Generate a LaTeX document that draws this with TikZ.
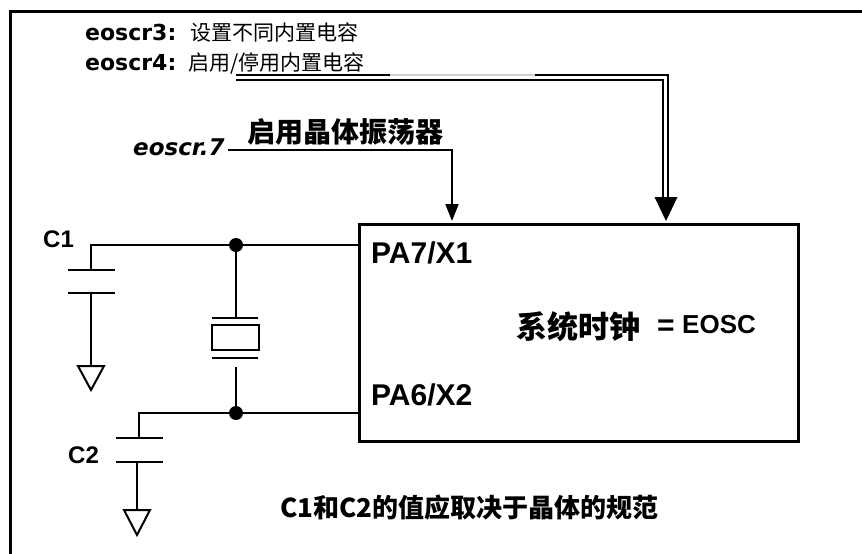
\documentclass[tikz,border=0pt]{standalone}
\usepackage{fontspec}
\setmainfont{Liberation Sans}
\newfontfamily\cjk{Noto Sans CJK SC}
\newfontfamily\dvs{DejaVu Sans}
\usetikzlibrary{arrows.meta}
\tikzset{
  wire/.style={line width=2pt, line cap=butt},
  lbl/.style={inner sep=0pt, anchor=base west},
  regfont/.style={font=\dvs\bfseries\fontsize{22}{22}\selectfont},
  smallcjk/.style={font=\cjk\fontsize{21}{21}\selectfont},
  pinfont/.style={font=\bfseries\fontsize{30}{30}\selectfont},
  capfont/.style={font=\bfseries\fontsize{24}{24}\selectfont},
  dot/.style={circle, fill=black, inner sep=0pt, minimum size=14pt},
  gnd/.style={line width=2pt, line join=miter},
}
\begin{document}
\begin{tikzpicture}[x=1pt,y=-1pt]
\useasboundingbox (0,0) rectangle (862,554);
\fill[white] (0,0) rectangle (862,554);
% frame
\draw[line width=3pt] (10.5,11) -- (862,11);
\draw[line width=2.5pt] (10.5,9.5) -- (10.5,554);

% top labels
\node[lbl, regfont] (e3) at (85,40) {eoscr3:};
\node[lbl, smallcjk] (e3t) at (190,40) {设置不同内置电容};
\node[lbl, regfont] (e4) at (85,70) {eoscr4:};
\node[lbl, smallcjk] (e4t) at (188,70) {启用/停用内置电容};

\node[lbl, font=\dvs\bfseries\itshape\fontsize{23}{23}\selectfont] (e7) at (133,155) {eoscr.7};
\node[lbl, font=\cjk\bfseries\fontsize{28}{28}\selectfont] (en) at (247,142) {启用晶体振荡器};

% MCU box
\node[draw, line width=2.5pt, minimum width=439pt, minimum height=217pt,
      anchor=north west, inner sep=0pt] (mcu) at (358,223) {};
\node[lbl, pinfont] (pa7) at (371,263) {PA7/X1};
\node[lbl, pinfont] (pa6) at (371,405) {PA6/X2};
\node[lbl, font=\cjk\bfseries\fontsize{31}{31}\selectfont] (sys) at (516,338) {系统时钟};
\node[inner sep=0pt, font=\bfseries\fontsize{30}{30}\selectfont] (eq) at (666,327.5) {=};
\node[lbl, font=\bfseries\fontsize{26}{26}\selectfont] (eosc) at (682,333.5) {EOSC};

% double line control
\coordinate (s4a) at (236,75);
\coordinate (m4a) at (390,75);
\coordinate (n4a) at (535,75);
\coordinate (k4a) at (668,75);
\coordinate (d4a) at (668,200);
\coordinate (s4b) at (236,80);
\coordinate (k4b) at (663,80);
\coordinate (d4b) at (663,200);
\draw[wire] (s4b) -- (k4b) -- (d4b);
\draw[wire] (s4a) -- (m4a);
\draw[wire, gray!35] (m4a) -- (n4a);
\draw[wire] (n4a) -- (k4a) -- (d4a);
\fill (654.5,197) -- (677.5,197) -- (666,221) -- cycle;

% eoscr.7 arrow
\coordinate (s7) at (228,150);
\coordinate (t7) at (452,221);
\draw[wire, -{Triangle[length=17pt,width=13pt]}] (s7) -| (t7);

% junctions
\coordinate (j1) at (236,245);
\coordinate (j2) at (236,413);
\draw[wire] (j1) -- (mcu.west |- j1);
\draw[wire] (j2) -- (mcu.west |- j2);

% C1
\coordinate (c1w) at (91,245);
\coordinate (c1a) at (91,270);
\coordinate (c1b) at (91,293);
\coordinate (g1) at (91,366);
\draw[wire] (j1) -- (c1w) -- (c1a);
\draw[wire] (68,270) -- (115,270);
\draw[wire] (68,293) -- (115,293);
\draw[wire] (c1b) -- (g1);
\draw[gnd] (78,366) -- (104,366) -- (91,390) -- cycle;
\node[lbl, capfont] (c1l) at (43,247) {C1};

% C2
\coordinate (c2w) at (139,413);
\coordinate (c2a) at (139,438);
\coordinate (c2b) at (137,462);
\coordinate (g2) at (137,510);
\draw[wire] (j2) -- (c2w) -- (c2a);
\draw[wire] (116,438) -- (163,438);
\draw[wire] (116,462) -- (163,462);
\draw[wire] (c2b) -- (g2);
\draw[gnd] (124,510) -- (150,510) -- (137,535) -- cycle;
\node[lbl, capfont] (c2l) at (68,463) {C2};

% crystal
\coordinate (xa) at (236,318);
\coordinate (xc) at (236,367);
\draw[wire] (j1) -- (xa);
\draw[wire] (212,318) -- (258,318);
\draw[wire] (211.5,325) rectangle (258.5,350);
\draw[wire] (212,358) -- (258,358);
\draw[wire] (xc) -- (j2);

\node[dot] at (j1) {};
\node[dot] at (j2) {};

% note
\node[lbl, font=\cjk\bfseries\fontsize{26}{26}\selectfont] (note) at (280,517) {C1和C2的值应取决于晶体的规范};
\end{tikzpicture}
\end{document}
